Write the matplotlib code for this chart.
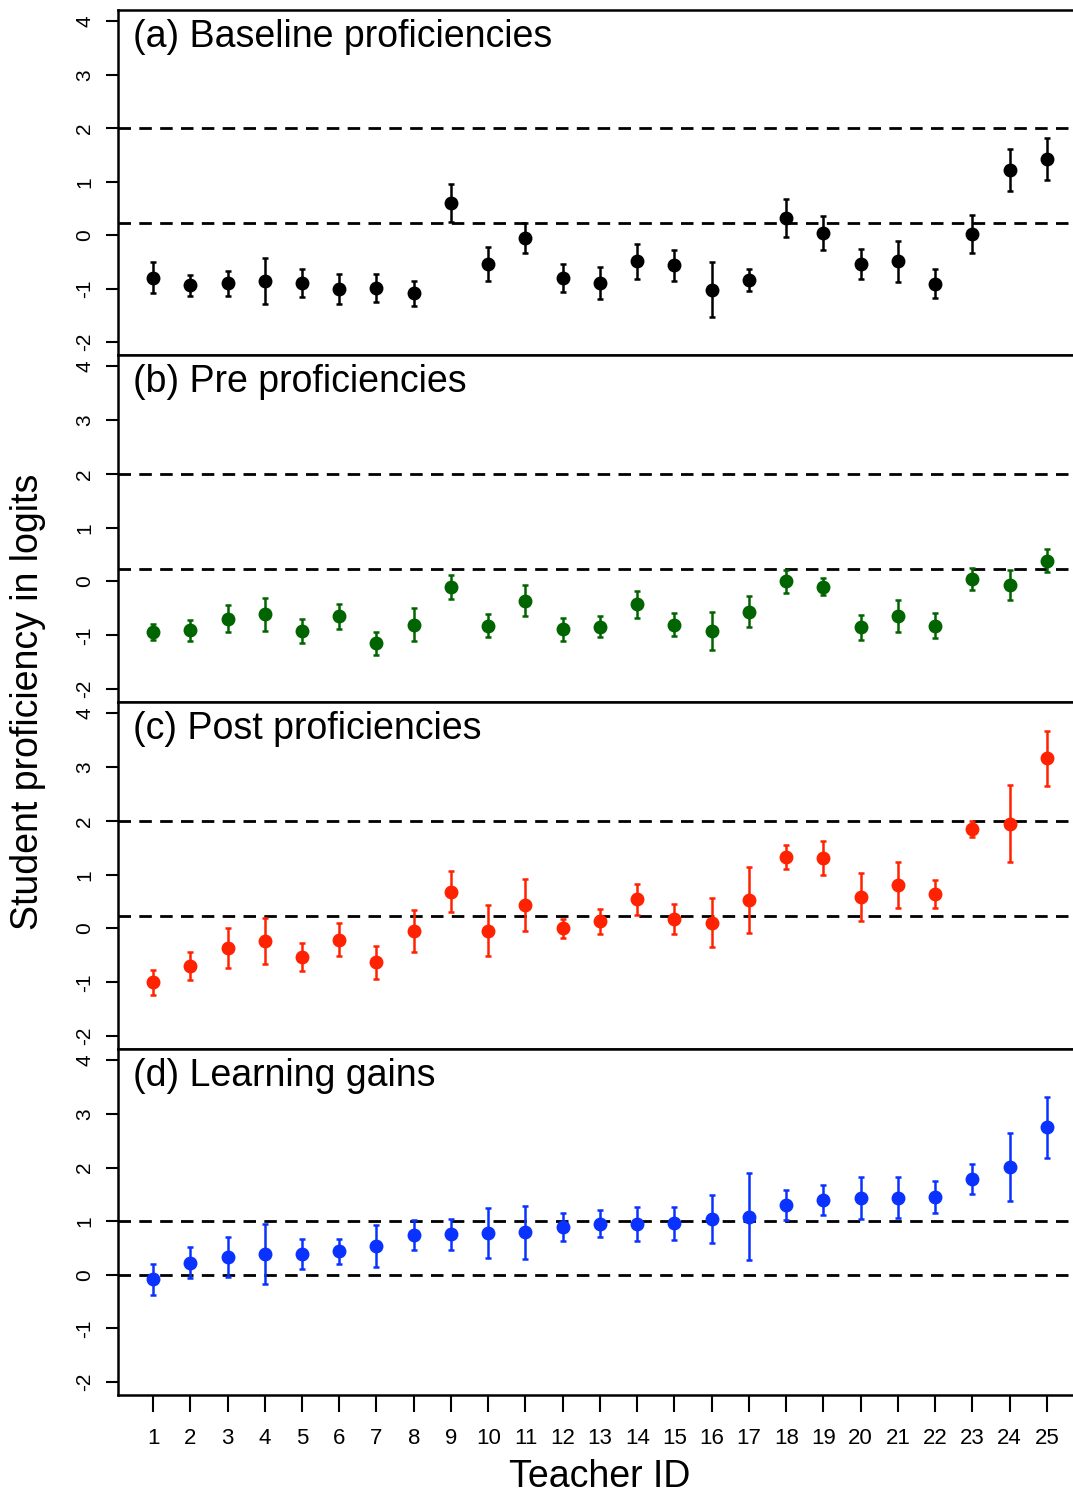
import matplotlib
matplotlib.use("Agg")
import matplotlib.pyplot as plt
import numpy as np

plt.rcParams['font.family'] = ['Liberation Sans', 'DejaVu Sans']

teachers = list(range(1, 26))

baseline = [-0.80, -0.94, -0.90, -0.86, -0.90, -1.01, -0.99, -1.09, 0.60, -0.54, -0.05, -0.80,
            -0.90, -0.49, -0.56, -1.02, -0.84, 0.32, 0.04, -0.54, -0.49, -0.91, 0.02, 1.22, 1.42]
baseline_err = [0.29, 0.19, 0.23, 0.43, 0.26, 0.28, 0.26, 0.23, 0.35, 0.32, 0.28, 0.27,
                0.30, 0.32, 0.29, 0.51, 0.20, 0.35, 0.32, 0.28, 0.39, 0.27, 0.36, 0.39, 0.39]

pre = [-0.94, -0.91, -0.69, -0.61, -0.92, -0.65, -1.15, -0.80, -0.10, -0.82, -0.36, -0.89,
       -0.84, -0.42, -0.80, -0.92, -0.56, 0.00, -0.10, -0.85, -0.64, -0.82, 0.05, -0.07, 0.39]
pre_err = [0.15, 0.19, 0.25, 0.31, 0.23, 0.23, 0.21, 0.31, 0.22, 0.22, 0.29, 0.22,
           0.20, 0.25, 0.22, 0.36, 0.29, 0.21, 0.16, 0.23, 0.30, 0.23, 0.21, 0.28, 0.21]

post = [-1.00, -0.69, -0.36, -0.23, -0.53, -0.21, -0.63, -0.04, 0.68, -0.04, 0.44, 0.00,
        0.13, 0.54, 0.18, 0.11, 0.53, 1.33, 1.31, 0.58, 0.81, 0.64, 1.85, 1.95, 3.16]
post_err = [0.23, 0.26, 0.37, 0.43, 0.26, 0.31, 0.30, 0.39, 0.38, 0.47, 0.48, 0.18,
            0.24, 0.28, 0.28, 0.46, 0.61, 0.22, 0.31, 0.45, 0.42, 0.26, 0.15, 0.72, 0.52]

gains = [-0.08, 0.23, 0.33, 0.38, 0.39, 0.44, 0.53, 0.75, 0.76, 0.78, 0.79, 0.89,
         0.95, 0.95, 0.96, 1.04, 1.08, 1.30, 1.39, 1.43, 1.44, 1.45, 1.79, 2.01, 2.75]
gains_err = [0.29, 0.29, 0.37, 0.56, 0.28, 0.23, 0.39, 0.28, 0.29, 0.47, 0.49, 0.26,
             0.25, 0.31, 0.31, 0.45, 0.81, 0.28, 0.28, 0.39, 0.38, 0.30, 0.28, 0.64, 0.57]

titles = ["(a) Baseline proficiencies", "(b) Pre proficiencies",
          "(c) Post proficiencies", "(d) Learning gains"]
colors = ["black", "#006400", "#FF2200", "#0A32FF"]
ref_lines = [[2.0, 0.23], [2.0, 0.23], [2.0, 0.23], [1.0, 0.0]]
yticks = [-2, -1, 0, 1, 2, 3, 4]

series = [(baseline, baseline_err), (pre, pre_err), (post, post_err), (gains, gains_err)]

W, H = 1073, 1496
fig = plt.figure(figsize=(W / 100, H / 100), dpi=100)

left = 118 / W
right = 1.0
tops = [10, 355, 702, 1049]
bottoms = [355, 702, 1049, 1395]

axes = []
for i in range(4):
    y0 = 1 - bottoms[i] / H
    h = (bottoms[i] - tops[i]) / H
    ax = fig.add_axes([left, y0, right - left, h])
    axes.append(ax)
    vals, errs = series[i]
    for yl in ref_lines[i]:
        ax.axhline(yl, color='black', lw=2.0, linestyle=(0, (4.5, 3.0)), zorder=1)
    ax.errorbar(teachers, vals, yerr=errs, fmt='o', color=colors[i], ms=9,
                elinewidth=1.8, capsize=2.5, capthick=1.8, zorder=3)
    ax.set_ylim(-2.24, 4.21)
    ax.set_xlim(0.06, 25.70)
    ax.set_yticks(yticks)
    ax.set_yticklabels([str(t) for t in yticks], rotation=90, va='center', fontsize=15)
    ax.tick_params(axis='y', direction='out', length=9, width=1.5, pad=8)
    for s in ['top', 'bottom', 'left']:
        ax.spines[s].set_linewidth(1.8)
    ax.spines['right'].set_visible(False)
    ax.text(0.016, 0.975, titles[i], transform=ax.transAxes, ha='left', va='top', fontsize=27)
    if i < 3:
        ax.set_xticks([])
    else:
        ax.set_xticks(teachers)
        ax.set_xticklabels([str(t) for t in teachers], fontsize=16)
        ax.tick_params(axis='x', direction='out', length=12, width=1.5, pad=12)

fig.text(28 / W, 1 - 702 / H, "Student proficiency in logits", rotation=90,
         ha='center', va='center', fontsize=27)
fig.text(600 / W, 1 - 1477 / H, "Teacher ID", ha='center', va='center', fontsize=27)

fig.savefig("out.png", dpi=100)
